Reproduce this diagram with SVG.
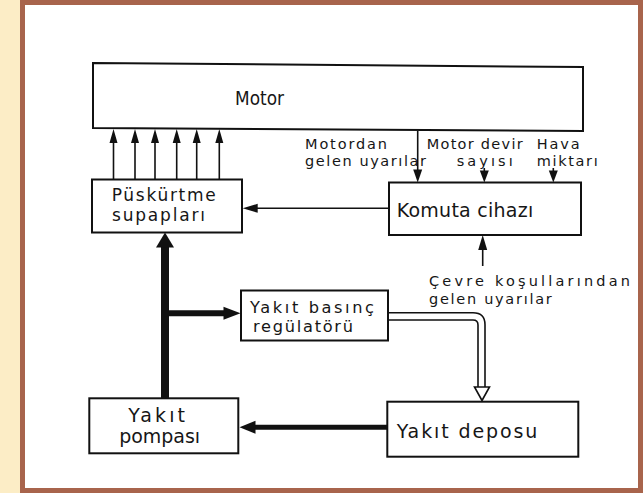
<svg xmlns="http://www.w3.org/2000/svg" width="643" height="493" viewBox="0 0 643 493">
<defs>
<style>
.box{fill:#fff;stroke:#111;stroke-width:2}
.lbl{font-family:"DejaVu Sans","Liberation Sans",sans-serif;font-size:19px;fill:#161616}
.lbl2{font-family:"DejaVu Sans","Liberation Sans",sans-serif;font-size:17px;fill:#161616}
.lbl3{font-family:"DejaVu Sans","Liberation Sans",sans-serif;font-size:16.2px;fill:#161616}
.ann{font-family:"DejaVu Sans","Liberation Sans",sans-serif;font-size:14.5px;fill:#161616}
.thin{fill:none;stroke:#111;stroke-width:1.6}
.pipe{fill:none;stroke:#111;stroke-width:1.6}
.head{fill:#111}
</style>
</defs>
<rect x="0" y="0" width="643" height="493" fill="#fcedc6"/>
<rect x="22.5" y="2.5" width="618" height="488" fill="#ffffff" stroke="#a8644c" stroke-width="5"/>

<g id="motor">
<polygon class="box" points="93,63 583,67 583,131 93,128"/>
<text class="lbl" x="235" y="105" textLength="49" lengthAdjust="spacingAndGlyphs">Motor</text>
</g>

<g id="puskurtme">
<rect class="box" x="92" y="179.5" width="150" height="53"/>
<text class="lbl2" x="111.7" y="201.3" textLength="104" lengthAdjust="spacing">Püskürtme</text>
<text class="lbl2" x="112" y="220.6" textLength="93" lengthAdjust="spacing">supapları</text>
</g>

<g id="komuta">
<rect class="box" x="389" y="182.5" width="192" height="52.5"/>
<text class="lbl" x="396.7" y="216.7" textLength="136.6" lengthAdjust="spacing">Komuta cihazı</text>
</g>

<g id="regulator">
<rect class="box" x="241" y="290.5" width="147" height="50"/>
<text class="lbl3" x="250" y="313" textLength="124" lengthAdjust="spacing">Yakıt basınç</text>
<text class="lbl3" x="253" y="331.5" textLength="100" lengthAdjust="spacing">regülatörü</text>
</g>

<g id="depo">
<rect class="box" x="387.3" y="401.7" width="191" height="55"/>
<text class="lbl" x="396.7" y="438.3" textLength="140.6" lengthAdjust="spacing">Yakıt deposu</text>
</g>

<g id="pompa">
<rect class="box" x="89.3" y="398.3" width="149" height="55"/>
<text class="lbl" x="128.3" y="421.7" textLength="56.7" lengthAdjust="spacing">Yakıt</text>
<text class="lbl" x="119.3" y="442.7" textLength="80.7" lengthAdjust="spacing">pompası</text>
</g>

<g id="labels">
<text class="ann" x="305" y="149" textLength="82" lengthAdjust="spacing">Motordan</text>
<text class="ann" x="305" y="166" textLength="121" lengthAdjust="spacing">gelen uyarılar</text>
<text class="ann" x="426.7" y="149" textLength="96" lengthAdjust="spacing">Motor devir</text>
<text class="ann" x="456.7" y="166" textLength="56" lengthAdjust="spacing">sayısı</text>
<text class="ann" x="536.7" y="149" textLength="43" lengthAdjust="spacing">Hava</text>
<text class="ann" x="536.7" y="166" textLength="61" lengthAdjust="spacing">miktarı</text>
<text class="ann" x="429" y="286" textLength="201" lengthAdjust="spacing">Çevre koşullarından</text>
<text class="ann" x="429" y="303.5" textLength="122.7" lengthAdjust="spacing">gelen uyarılar</text>
</g>

<g id="connectors">
<path class="thin" d="M113.5 179.5V140 M135 179.5V140 M155 179.5V140 M176.7 179.5V140 M196.7 179.5V140 M219.3 179.5V140"/>
<path class="head" d="M113.5 129l-4 14h8z M135 129l-4 14h8z M155 129l-4 14h8z M176.7 129l-4 14h8z M196.7 129l-4 14h8z M219.3 129l-4 14h8z"/>
<path class="thin" d="M389 208.3H255"/>
<path class="head" d="M242.7 208.3l15 -4.5v9z"/>
<path class="thin" d="M417.7 131V172"/>
<path class="head" d="M417.7 182.5l-4.5 -13h9z"/>
<path class="thin" d="M484.3 168V172"/>
<path class="head" d="M484.3 182.5l-4.5 -12h9z"/>
<path class="thin" d="M553.3 168V172"/>
<path class="head" d="M553.3 182.5l-4.5 -12h9z"/>
<path class="thin" d="M482.7 266V247"/>
<path class="head" d="M482.7 235l-4.5 15h9z"/>
<path d="M165 398.3V245" fill="none" stroke="#111" stroke-width="8"/>
<path class="head" d="M165 232.5l-9 15h18z"/>
<path d="M165 313.3H226" fill="none" stroke="#111" stroke-width="6"/>
<path class="head" d="M240.5 313.3l-17 -6.5v13z"/>
<path d="M387.3 427.3H252" fill="none" stroke="#111" stroke-width="5"/>
<path class="head" d="M239.5 427.3l16 -6.5v13z"/>
<path class="pipe" d="M388 312.7H473Q485 312.7 485 324.7V387"/>
<path class="pipe" d="M388 320H473Q478 320 478 325V387"/>
<path d="M474.5 387H489.5L482 400.5Z" fill="#fff" stroke="#111" stroke-width="1.6"/>
</g>
</svg>
